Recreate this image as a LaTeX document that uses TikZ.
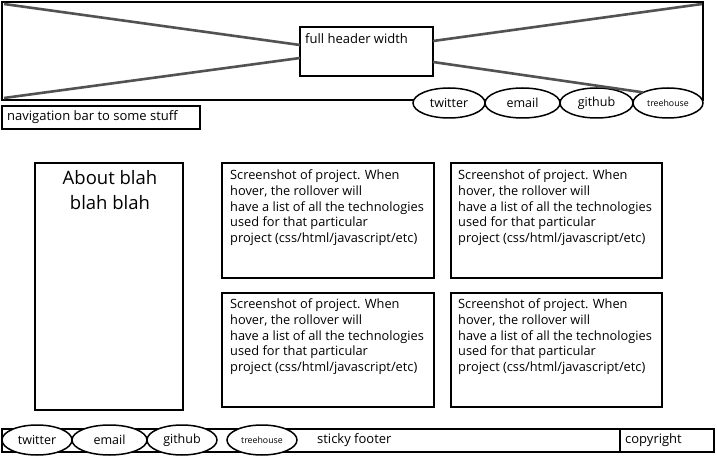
\documentclass[tikz,border=0pt]{standalone}
\usepackage{fontspec}
\setmainfont{Open Sans}
\usetikzlibrary{shapes.geometric,calc}
\tikzset{
  box/.style={draw=black, line width=1.8pt, fill=white, inner sep=0pt, outer sep=0pt, anchor=north west},
  pill/.style={draw=black, line width=1.5pt, fill=white, ellipse, inner sep=0pt, outer sep=0pt, minimum height=30pt, font=\fontsize{12.5}{15}\selectfont},
  smallpill/.style={pill, font=\fontsize{8.8}{10}\selectfont},
  xline/.style={draw=black!68, line width=2.6pt},
  lbl/.style={anchor=west, inner sep=0pt, font=\fontsize{13}{15}\selectfont},
  proj/.style={anchor=north west, inner sep=0pt, align=left, font=\fontsize{12.8}{15.6}\selectfont}
}
\begin{document}
\begin{tikzpicture}[x=1pt,y=-1pt]
\useasboundingbox (0,0) rectangle (717,457);
% header
\node[box, minimum width=701pt, minimum height=98pt] (hdr) at (2,2) {};
\node[box, minimum width=133pt, minimum height=49pt] (fhw) at (300,27) {};
\node[lbl] (fhwt) at (305,38.5) {full header width};
% header pills
\node[pill, minimum width=72pt] (htw) at (449,103) {twitter};
\node[pill, minimum width=75pt] (hem) at (522.5,103) {email};
\node[pill, minimum width=73pt] (hgh) at (596.5,103) {github};
\node[smallpill, minimum width=70pt] (hth) at (668,103) {treehouse};
% X lines
\draw[xline] ($(hdr.north west)+(2,2)$) -- ($(fhw.west)+(0,-6.5)$);
\draw[xline] ($(hdr.south west)+(2,-2)$) -- ($(fhw.west)+(0,6.5)$);
\draw[xline] ($(fhw.east)+(0,-10.5)$) -- ($(hdr.north east)+(-1,2)$);
\draw[xline] ($(fhw.east)+(0,10.5)$) -- (hth.north west);
% nav bar
\node[box, minimum width=198pt, minimum height=23pt] (nav) at (2,106) {};
\node[lbl] (navt) at (7,117.5) {navigation bar to some stuff};
% about
\node[box, minimum width=148pt, minimum height=247pt] (about) at (35,163) {};
\node[anchor=north, inner sep=0pt, align=center, font=\fontsize{18.5}{25}\selectfont] (aboutt) at (110,170) {About blah\\blah blah};
% projects
\node[box, minimum width=212pt, minimum height=115pt] (p1) at (222,163) {};
\node[box, minimum width=211pt, minimum height=115pt] (p2) at (451,163) {};
\node[box, minimum width=212pt, minimum height=114pt] (p3) at (222,293) {};
\node[box, minimum width=211pt, minimum height=114pt] (p4) at (451,293) {};
\node[proj] (p1t) at (230,170) {Screenshot of project. When\\hover, the rollover will\\have a list of all the technologies\\used for that particular\\project (css/html/javascript/etc)};
\node[proj] (p2t) at (458,170) {Screenshot of project. When\\hover, the rollover will\\have a list of all the technologies\\used for that particular\\project (css/html/javascript/etc)};
\node[proj] (p3t) at (230,299) {Screenshot of project. When\\hover, the rollover will\\have a list of all the technologies\\used for that particular\\project (css/html/javascript/etc)};
\node[proj] (p4t) at (458,299) {Screenshot of project. When\\hover, the rollover will\\have a list of all the technologies\\used for that particular\\project (css/html/javascript/etc)};
% footer
\node[box, minimum width=618pt, minimum height=23pt] (foot) at (2,429) {};
\node[box, minimum width=94pt, minimum height=23pt] (copy) at (620,429) {};
\node[lbl] (foott) at (317,440.5) {sticky footer};
\node[lbl] (copyt) at (625,440.5) {copyright};
\node[pill, minimum width=70pt] (ftw) at (37,440) {twitter};
\node[pill, minimum width=75pt] (fem) at (109.5,440) {email};
\node[pill, minimum width=70pt] (fgh) at (182,440) {github};
\node[smallpill, minimum width=70pt] (fth) at (262,440) {treehouse};
\end{tikzpicture}
\end{document}
